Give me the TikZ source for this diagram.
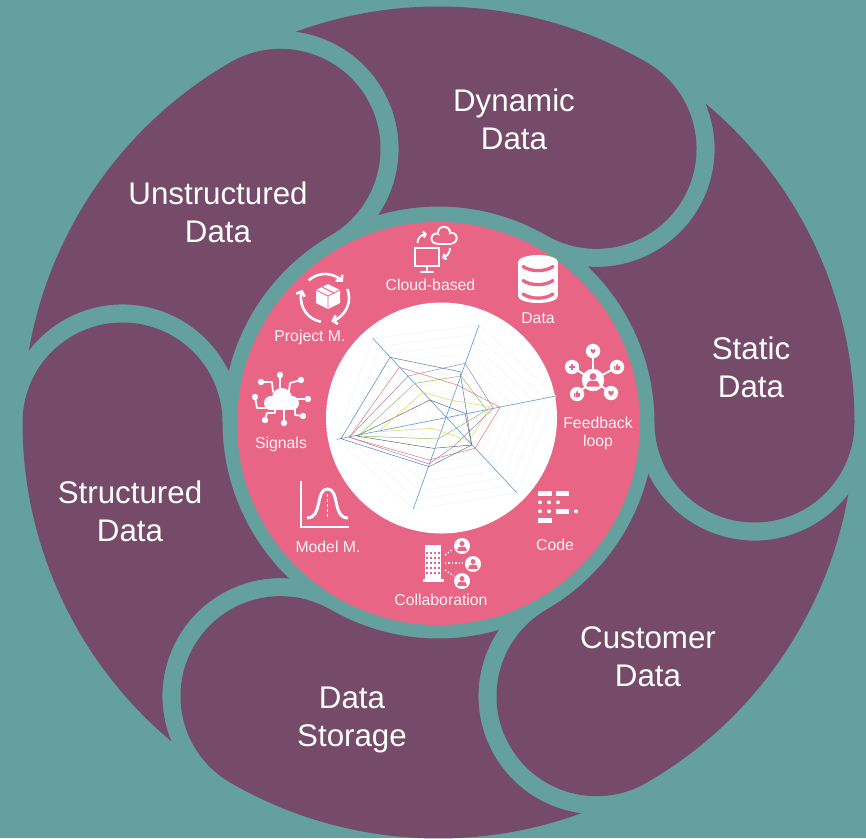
\documentclass[tikz,border=0pt]{standalone}
\usepackage{fontspec}
\setmainfont{Liberation Sans}
\usetikzlibrary{arrows.meta,calc}
\definecolor{tealbg}{HTML}{64A09D}
\definecolor{plum}{HTML}{764A69}
\definecolor{rose}{HTML}{E96585}
\definecolor{gridc}{HTML}{F2F4F4}
\definecolor{axisc}{HTML}{6FA5D8}
\definecolor{sblue}{HTML}{5580B5}
\definecolor{sred}{HTML}{E8776A}
\definecolor{spurple}{HTML}{A084C0}
\definecolor{sgreen}{HTML}{8FBF6A}
\definecolor{syellow}{HTML}{DADA55}
\definecolor{sblack}{HTML}{6A6A6A}
\tikzset{
  blob/.style={fill=plum,draw=none},
  bigtext/.style={text=white,align=center,inner sep=0pt,font=\fontsize{31.3}{38}\selectfont},
  smalltext/.style={text=white,align=center,inner sep=0pt,font=\fontsize{15.8}{18}\selectfont,text opacity=.93},
  ico/.style={draw=white,line width=1.8pt,line cap=round,line join=round},
  arcico/.style={draw=white,line width=2.6pt,line cap=butt,-{Straight Barb[length=4pt,width=9pt]}},
  pinkln/.style={draw=rose,line width=3.3pt,line cap=round},
  gridln/.style={draw=gridc,line width=.5pt},
  axisln/.style={draw=axisc,line width=.7pt},
  ser/.style={line width=.5pt,line join=round},
  personbadge/.pic={
    \fill[white] (0,0) circle (8);
    \fill[rose] (0,-2.4) circle (2.5);
    \fill[rose] (-4.6,4.8) -- (-4.6,3.2) .. controls (-4.6,1) and (-2.5,0.6) .. (0,0.6) .. controls (2.5,0.6) and (4.6,1) .. (4.6,3.2) -- (4.6,4.8) -- cycle;
  },
  heartmark/.pic={
    \fill[rose] (0,3) .. controls (-5,-0.5) and (-2.4,-4) .. (0,-1.2) .. controls (2.4,-4) and (5,-0.5) .. (0,3) -- cycle;
  },
  thumbmark/.pic={
    \fill[rose] (-3.4,-0.6) rectangle (-1.9,3);
    \fill[rose] (-1.3,3) -- (-1.3,-0.6) -- (0.2,-3.2) -- (1,-2.8) -- (0.6,-0.8) -- (3.2,-0.8) -- (2.6,3) -- cycle;
  },
}
\begin{document}
\begin{tikzpicture}[x=1pt,y=-1pt]
\useasboundingbox (0,0) rectangle (866,838);
\fill[tealbg] (0,0) rectangle (866,838);

% Six swirl blobs: annular sector + own head disc - neighbour's head disc
\coordinate (sw) at (438.5,422.5);
\foreach \th in {-120,-60,0,60,120,180}{
  \pgfmathsetmacro{\pv}{\th-60}
  \pgfmathsetmacro{\aa}{\pv+9.91}
  \pgfmathsetmacro{\ab}{\th+180}
  \pgfmathsetmacro{\ac}{\pv+13.78}
  \pgfmathsetmacro{\ad}{\pv+154.2}
  \pgfmathsetmacro{\ae}{\pv+37.4}
  \fill[blob] ($(sw)+(\aa:416)$)
    arc[start angle=\aa,end angle=\th,radius=416]
    arc[start angle=\th,end angle=\ab,radius=100]
    arc[start angle=\th,end angle=\ac,radius=216]
    arc[start angle=\ad,end angle=\ae,radius=118]
    -- cycle;
}

% Hub
\fill[rose] (438.5,423.5) circle (201.5);
\fill[white] (441.5,418) circle (115.5);

% Radar chart
\coordinate (rc) at (445.7,417.7);
\coordinate (ra) at (479,325);
\coordinate (rb) at (556,396);
\coordinate (rcc) at (517,493);
\coordinate (rd) at (413.3,509);
\coordinate (re) at (336.7,439.3);
\coordinate (rf) at (372.7,338.3);
\foreach \f in {0.1,0.2,...,1.01}{
  \draw[gridln] ($(rc)!\f!(ra)$) -- ($(rc)!\f!(rb)$) -- ($(rc)!\f!(rcc)$) -- ($(rc)!\f!(rd)$) -- ($(rc)!\f!(re)$) -- ($(rc)!\f!(rf)$) -- cycle;
}
\draw[axisln] (ra) -- (rd);
\draw[axisln] (rb) -- (re);
\draw[axisln] (rcc) -- (rf);
\draw[ser,sblack] (430,400) -- (465,413.3) -- (471.7,445) -- (433.3,448.3) -- (356.7,436) -- cycle;
\draw[ser,syellow] (422.7,392.3) -- (450,400) -- (490,406.7) -- (469.3,440.7) -- (431.7,428.3) -- (378.3,431.7) -- cycle;
\draw[ser,sgreen] (415,383.3) -- (461,376) -- (486.7,410) -- (438.3,439) -- (358.3,436) -- cycle;
\draw[ser,spurple] (408.3,376) -- (465,363.3) -- (493.3,408.3) -- (453.3,446.7) -- (429,464) -- (349.3,437.3) -- cycle;
\draw[ser,sred] (399.3,367.3) -- (457.3,385) -- (500,407.3) -- (475,448.3) -- (429,460) -- (349.3,437.3) -- cycle;
\draw[ser,sblue] (390,357.3) -- (460,371.7) -- (466.7,413.3) -- (471.7,445) -- (429,466.7) -- (341,438.7) -- cycle;

% Cloud-based icon
\foreach \c/\d in {white/0,rose/1.9}{
  \fill[\c] (436.5,238.5) circle (6-\d);
  \fill[\c] (444,233) circle (7.2-\d);
  \fill[\c] (451.5,238) circle (6.2-\d);
  \fill[\c] (436.5,236) rectangle (451.5,244.5-\d);
}
\draw[ico,line width=2.3pt,line join=miter] (415,248) rectangle (439,266);
\draw[ico,line width=2.3pt,line cap=butt] (427,267) -- (427,271);
\draw[ico,line width=2.3pt] (421,272) -- (433,272);
\draw[draw=white,line width=1.9pt,-{Straight Barb[length=2.5pt,width=6pt]}] (417.5,243) .. controls (417.5,238) and (421,235) .. (427,234);
\draw[draw=white,line width=1.9pt,-{Straight Barb[length=2.5pt,width=6pt]}] (450,248) .. controls (450,253) and (447,256) .. (442,258);

% Data icon
\fill[white] (518,262) rectangle (558,296);
\fill[white] (538,262) ellipse (20 and 7);
\fill[white] (538,296) ellipse (20 and 7);
\foreach \yy in {266.5,280.5,294}{
  \draw[pinkln] (523,\yy) .. controls (531,\yy+5.5) and (545,\yy+5.5) .. (553,\yy);
}

% Feedback icon
\foreach \px/\py in {593/351,572/367,617/367,577/394,611/393}{
  \draw[ico,line width=2pt] (593,380) -- (\px,\py);
  \fill[white] (\px,\py) circle (7.2);
}
\pic at (593,380) [scale=1.4] {personbadge};
\pic at (593,351) [scale=.9] {heartmark};
\draw[rose,line width=1.2pt] (569,367) -- (575,367) (572,364) -- (572,370);
\pic at (617,367) {thumbmark};
\pic at (577,394) {thumbmark};
\pic at (611,393) {heartmark};

% Code icon
\fill[white] (538,491) rectangle (552,496);
\fill[white] (556,491) rectangle (569,496);
\foreach \px in {540,549,558}{\fill[white] (\px,502.3) circle (2);}
\foreach \px in {540,549,576}{\fill[white] (\px,511.3) circle (2);}
\fill[white] (556,509) rectangle (569,514);
\fill[white] (538,518) rectangle (552,523);

% Collaboration icon
\fill[white] (425,545) rectangle (441,580);
\fill[white] (422.5,579) rectangle (444,581.5);
\foreach \wy in {553,558,563,568,573}{
  \foreach \wx in {427,431,435,439}{
    \fill[rose] (\wx-1,\wy-1.2) rectangle (\wx+1,\wy+1.2);
  }
}
\draw[white,line width=1.4pt,dotted] (445,555) -- (453,549);
\draw[white,line width=1.4pt,dotted] (445,563) -- (463,563);
\draw[white,line width=1.4pt,dotted] (445,570) -- (454,576);
\pic at (462,546) {personbadge};
\pic at (473,564) {personbadge};
\pic at (462,581) {personbadge};

% Model icon
\draw[white,line width=2.6pt,line cap=butt,line join=miter] (301,481) -- (301,527) -- (348.5,527);
\draw[white,line width=3pt,line cap=butt] (307,518) .. controls (323,518) and (315,489) .. (327.5,489) .. controls (340,489) and (332,518) .. (348,518);
\draw[white,line width=1pt,dash pattern=on 3pt off 2pt] (327.5,494) -- (327.5,519);

% Signals icon
\draw[ico] (280,375) -- (280,388);
\draw[ico] (261,382) -- (272,382) -- (273,392);
\draw[ico] (301,380) -- (290,383) -- (289,391);
\draw[ico] (255,397) -- (257,408) -- (266,408);
\draw[ico] (308,399) -- (297,399);
\draw[ico] (265,420) -- (267,413) -- (275,413) -- (275,409);
\draw[ico] (284,423) -- (284,409);
\draw[ico] (303,416) -- (295,415) -- (295,409);
\foreach \px/\py in {280/375,261/382,301/380,255/397,308/399,265/420,284/423,303/416}{
  \fill[white] (\px,\py) circle (3.2);
}
\fill[white] (271,403) circle (7);
\fill[white] (282,398) circle (10);
\fill[white] (292,403) circle (7);
\fill[white] (271,404) rectangle (292,410);

% Project icon
\draw[arcico] (325,298) ++(-133:24) arc[start angle=-133,end angle=-42,radius=24];
\draw[arcico] (325,298) ++(-22:24) arc[start angle=-22,end angle=75,radius=24];
\draw[arcico] (325,298) ++(100:24) arc[start angle=100,end angle=200,radius=24];
\fill[white] (328,284) -- (340,290) -- (340,303) -- (328,309) -- (316,303) -- (316,290) -- cycle;
\draw[rose,line width=.8pt] (316,290) -- (328,296) -- (340,290) (328,296) -- (328,309);
\draw[rose,line width=1pt] (322,287) -- (334,293);

% Labels on the blobs
\node[bigtext] (tdyn) at (514,119) {Dynamic\\Data};
\node[bigtext] (tuns) at (218,212) {Unstructured\\Data};
\node[bigtext] (tsta) at (751,367) {Static\\Data};
\node[bigtext] (tcus) at (648,657) {Customer\\Data};
\node[bigtext] (tsto) at (352,719.5) {Data\\Storage};
\node[bigtext] (tstr) at (130,511) {Structured\\Data};

% Labels on the hub
\node[smalltext] (lcloud) at (430.5,285) {Cloud-based};
\node[smalltext] (ldata) at (538,318) {Data};
\node[smalltext] (lfeed) at (598,433.5) {Feedback\\loop};
\node[smalltext] (lcode) at (555,545) {Code};
\node[smalltext] (lcoll) at (441,600) {Collaboration};
\node[smalltext] (lmodel) at (328,547) {Model M.};
\node[smalltext] (lsig) at (281,444.5) {Signals};
\node[smalltext] (lproj) at (310,337) {Project M.};
\end{tikzpicture}
\end{document}
